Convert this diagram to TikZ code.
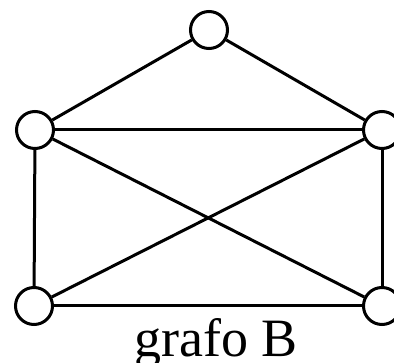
\documentclass[tikz,border=0pt]{standalone}
\usepackage{fontspec}
\setmainfont{Liberation Serif}
\usetikzlibrary{positioning}

\begin{document}
\begin{tikzpicture}[
  x=1pt, y=-1pt,
  vertex/.style={circle, draw=black, line width=3pt, fill=white, minimum size=37pt, inner sep=0pt},
  edge/.style={line width=3pt, black},
  caption/.style={font=\fontsize{54}{60}\selectfont, anchor=base, inner sep=0pt}
]
  \useasboundingbox (0,0) rectangle (394,363);
  \node[vertex] (top) at (209,30) {};
  \node[vertex] (midl) at (35,130) {};
  \node[vertex] (midr) at (382,130) {};
  \node[vertex] (botl) at (34,306) {};
  \node[vertex] (botr) at (382,306) {};
  \draw[edge] (top) -- (midl);
  \draw[edge] (top) -- (midr);
  \draw[edge] (midl) -- (midr);
  \draw[edge] (midl) -- (botl);
  \draw[edge] (midl) -- (botr);
  \draw[edge] (midr) -- (botl);
  \draw[edge] (midr) -- (botr);
  \draw[edge] (botl) -- (botr);
  \node[caption] (name) at (216,357) {grafo B};
\end{tikzpicture}
\end{document}
